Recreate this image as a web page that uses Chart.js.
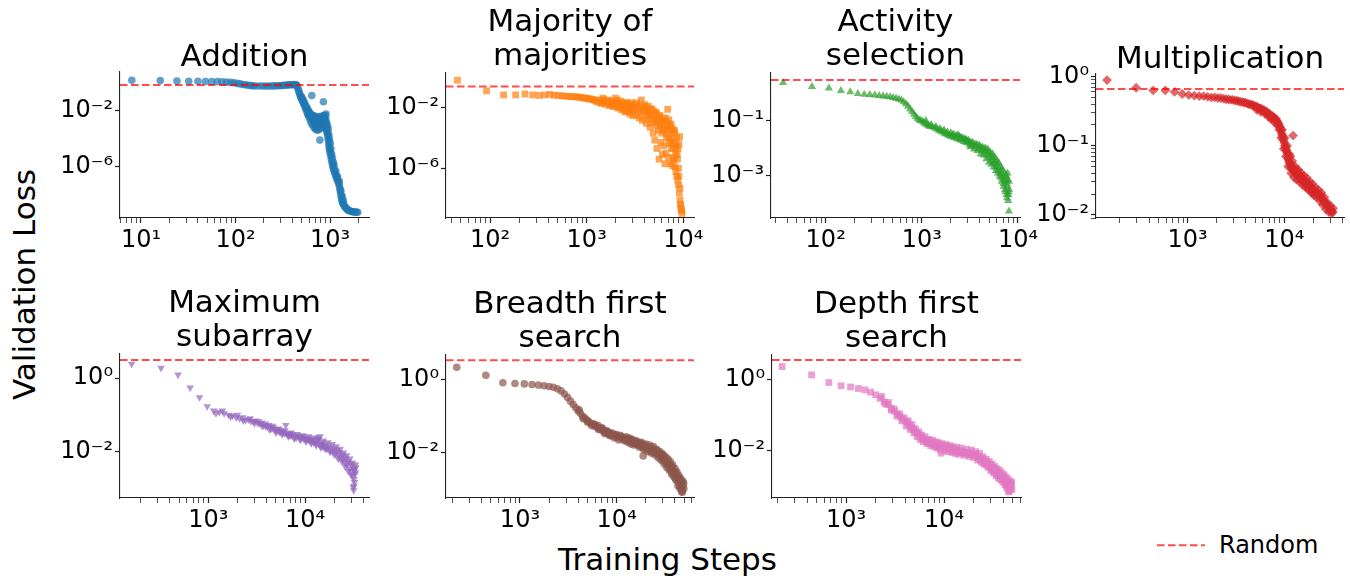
<!DOCTYPE html>
<html>
<head>
<meta charset="utf-8">
<script src="https://cdn.jsdelivr.net/npm/chart.js@4.4.1/dist/chart.umd.min.js"></script>
<style>
  html, body { margin: 0; padding: 0; background: #fff; }
  body { width: 1350px; height: 581px; position: relative; overflow: hidden; font-family: 'DejaVu Sans', sans-serif; }
  canvas { position: absolute; }
  .axis-label { position: absolute; font-size: 31px; line-height: 31px; color: #000; white-space: nowrap; text-align: center; }
  #ylabel { left: -125.7px; top: 268.5px; width: 300px; transform: rotate(-90deg); }
  #xlabel { left: 467.5px; top: 543.8px; width: 400px; }
  #legend { position: absolute; left: 1155px; top: 532.7px; height: 24px; font-size: 24px; line-height: 24px; white-space: nowrap; }
  #legend svg { position: absolute; left: 0; top: 0; }
  #legend span { position: absolute; left: 64px; top: 0; }
</style>
</head>
<body>
<div class="axis-label" id="ylabel">Validation Loss</div>
<div class="axis-label" id="xlabel">Training Steps</div>
<div id="legend">
  <svg width="56" height="24"><line x1="2" y1="12.3" x2="50" y2="12.3" stroke="rgba(255,0,0,0.7)" stroke-width="2" stroke-dasharray="7.5 3.5"/></svg>
  <span>Random</span>
</div>
<script>
// training step / validation loss pairs
const additionPoints = [
  [8,1.5],[16,1.45],[24,1.3],[32,1.25],[40,1.25],[48,1.2],[56,1.2],[64,1.2],[72,1.15],[80,1.1],[88,1.05],[96,1.0],
  [104,0.9],[112,0.82],[120,0.75],[128,0.7],[136,0.66],[144,0.62],[152,0.6],[160,0.58],[176,0.58],[192,0.57],
  [208,0.57],[224,0.58],[240,0.58],[256,0.59],[272,0.6],[288,0.61],[304,0.62],[320,0.64],[336,0.66],[352,0.68],
  [368,0.7],[384,0.71],[400,0.72],[416,0.73],[432,0.72],[440,0.68],[448,0.6],[456,0.42],[464,0.28],[472,0.2],
  [480,0.14],[488,0.1],[496,0.08],[504,0.065],[512,0.05],[520,0.04],[528,0.032],[536,0.026],[544,0.02],[552,0.015],
  [560,0.011],[568,0.014],[576,0.007],[584,0.005],[592,0.009],[600,0.0035],[608,0.006],[616,0.0022],[624,0.004],
  [632,0.0013],[641,0.12],[648,0.0028],[656,0.0009],[664,0.0045],[672,0.0016],[680,0.0006],[688,0.0032],[696,0.0011],
  [704,0.0005],[712,0.0024],[720,0.0009],[728,0.0004],[736,0.0017],[744,0.003],[752,0.0007],[760,0.0013],[768,0.00045],
  [780,0.00008],[788,0.0021],[796,0.0009],[804,0.0016],[812,0.0006],[820,0.0034],[828,0.0012],[836,0.0019],[850,0.044],
  [858,0.0008],[866,0.0026],[874,0.0013],[882,0.0048],[890,0.0006],[898,0.0016],[906,0.0058],[914,0.0009],[922,0.0004],
  [930,0.0003],[938,0.00025],[944,2e-4],[952,1.2e-4],[960,8e-5],[968,5e-5],[976,3e-5],[984,2e-5],[992,1.5e-5],[1000,1e-5],
  [1016,6e-6],[1032,3.5e-6],[1048,2e-6],[1064,1.2e-6],[1080,8e-7],[1096,6e-7],[1112,4.5e-7],[1128,3.5e-7],[1144,2.6e-7],
  [1160,2e-7],[1176,1.6e-7],[1192,1.3e-7],[1208,1e-7],[1224,8e-8],[1240,6e-8],[1256,4e-8],[1272,2.5e-8],[1288,1.5e-8],
  [1304,9e-9],[1320,6e-9],[1336,4e-9],[1352,3e-9],[1368,2.4e-9],[1392,2e-9],[1416,1.6e-9],[1448,1.3e-9],[1480,1.1e-9],
  [1520,9e-10],[1560,8e-10],[1600,7.2e-10],[1660,6.6e-10],[1720,6.2e-10],[1780,6e-10],[1840,5.8e-10],[1900,5.7e-10],[1960,5.6e-10],
  [500,0.1],[520,0.06],[540,0.035],[560,0.02],[580,0.013],[600,0.008],[620,0.006],[640,0.005],[660,0.0035],[680,0.0025],
  [700,0.004],[720,0.0028],[740,0.002],[760,0.0035],[780,0.0025],[800,0.004],[820,0.0018],[840,0.0028],[860,0.0045],
  [880,0.0022],[900,0.003],[920,0.0015],[940,0.0008],[955,0.0005],[970,0.0002],[985,0.0001],[1005,5e-5],[1020,2e-5],
  [1040,8e-6],[1060,4e-6],[1085,2e-6],[1105,1.2e-6],[1150,5e-7],[1200,2e-7],[1250,9e-8],[1300,2e-8],[1340,8e-9],[1380,4e-9]
];

const majorityPoints = [
  [46,0.6],[92,0.12],[138,0.065],[184,0.065],[230,0.075],[276,0.065],[322,0.06],[368,0.065],[414,0.07],[460,0.062],
  [506,0.06],[552,0.056],[598,0.055],[644,0.052],[690,0.05],[736,0.05],[782,0.048],[828,0.046],[874,0.045],[920,0.042],
  [966,0.04],[1012,0.038],[1058,0.036],[1104,0.035],[1150,0.032],[1196,0.03],[1242,0.026],[1288,0.023],[1334,0.03],
  [1380,0.02],[1426,0.018],[1472,0.04],[1518,0.025],[1564,0.016],[1610,0.021],[1656,0.03],[1702,0.013],[1748,0.02],
  [1794,0.015],[1840,0.026],[1886,0.011],[1932,0.018],[1978,0.04],[2024,0.012],[2070,0.02],[2116,0.009],[2162,0.015],
  [2208,0.011],[2254,0.025],[2300,0.007],[2346,0.012],[2392,0.018],[2438,0.008],[2484,0.005],[2530,0.012],[2576,0.006],
  [2622,0.02],[2668,0.009],[2714,0.005],[2760,0.014],[2806,0.0035],[2852,0.008],[2898,0.02],[2944,0.005],[2990,0.011],
  [3036,0.0028],[3128,0.007],[3220,0.015],[3312,0.0032],[3404,0.009],[3496,0.002],[3588,0.005],[3680,0.03],[3772,0.0014],
  [3864,0.006],[3956,0.015],[4048,0.0025],[4140,0.0009],[4232,0.005],[4324,0.012],[4416,0.0016],[4508,0.0005],[4600,0.003],
  [4692,0.008],[4784,0.001],[4876,0.0002],[4968,0.002],[5060,7e-5],[5152,0.005],[5244,0.0006],[5336,2e-5],[5428,0.0015],
  [5520,0.0003],[5612,4e-6],[5704,0.003],[5796,0.0008],[5888,5e-5],[5980,0.0002],[6072,8e-6],[6164,0.0012],[6256,3e-5],
  [6348,0.0004],[6440,2e-6],[6532,0.002],[6624,1e-5],[6716,0.0001],[6808,0.0006],[6900,0.0074],[6992,5e-6],[7084,0.0015],
  [7176,4e-5],[7268,0.0003],[7360,2e-6],[7452,0.0008],[7544,2e-5],[7636,0.0001],[7728,1.5e-6],[7820,0.0003],[7912,5e-6],
  [8004,5e-5],[8050,3.5e-6],[8096,0.0002],[8188,1.2e-6],[8280,3e-5],[8372,6e-7],[8464,0.0001],[8556,3e-7],[8648,8e-6],
  [8740,1.7e-7],[8832,2e-5],[8924,8e-8],[9016,4e-5],[9100,2.3e-8],[9160,1.2e-4],[9250,8e-9],[9350,4.5e-9],[9440,3e-9],
  [9520,2e-9],[9600,1.6e-9],[9700,1.1e-9],
  [1500,0.03],[1700,0.025],[1900,0.02],[2100,0.03],[2300,0.018],[2500,0.02],[2700,0.012],[2900,0.015],[3100,0.01],
  [3300,0.02],[3500,0.008],[3700,0.012],[3900,0.006],[4100,0.01],[4300,0.004],[4500,0.008],[4700,0.003],[4900,0.006],
  [5100,0.0015],[5300,0.004],[5500,0.001],[5700,0.0025],[5900,0.0006],[6100,0.0018],[6300,0.0003],[6500,0.0012],
  [6700,0.0002],[6900,0.0009],[7100,0.0001],[7300,0.0006],[7500,5e-5],[7700,0.0004],[7900,2e-5],[8100,0.0003],
  [8300,1e-5],[8500,3e-5],[8700,4e-6],[8900,1e-6],[9000,3e-7],[9200,5e-8]
];

const activityPoints = [
  [36,2.4],[72,1.7],[108,1.5],[144,1.23],[180,1.1],[216,0.95],[252,0.9],[288,0.87],[324,0.84],[360,0.8],[396,0.78],
  [432,0.75],[468,0.72],[504,0.68],[540,0.64],[576,0.6],[612,0.55],[648,0.48],[684,0.4],[720,0.33],[756,0.26],[792,0.21],
  [828,0.17],[864,0.14],[900,0.12],[936,0.105],[972,0.1],[1008,0.095],[1044,0.085],[1080,0.078],[1116,0.072],[1152,0.068],
  [1188,0.064],[1224,0.06],[1296,0.058],[1368,0.053],[1440,0.048],[1512,0.044],[1584,0.04],[1656,0.038],[1728,0.034],
  [1800,0.032],[1872,0.03],[1944,0.028],[2016,0.026],[2088,0.03],[2160,0.024],[2232,0.026],[2304,0.022],[2376,0.03],
  [2448,0.02],[2520,0.023],[2592,0.019],[2664,0.021],[2736,0.017],[2808,0.02],[2880,0.016],[2952,0.018],[3024,0.015],
  [3096,0.017],[3168,0.013],[3240,0.016],[3312,0.012],[3456,0.014],[3600,0.011],[3744,0.013],[3888,0.0095],[4032,0.011],
  [4176,0.008],[4320,0.0095],[4464,0.007],[4608,0.0085],[4752,0.0055],[4896,0.007],[5040,0.0045],[5184,0.0055],
  [5328,0.0035],[5472,0.0045],[5616,0.0028],[5760,0.0032],[5904,0.002],[6048,0.0026],[6192,0.0015],[6336,0.002],
  [6480,0.0011],[6624,0.0014],[6768,0.0008],[6912,0.001],[7056,0.0005],[7200,0.0007],[7344,0.0003],[7488,0.0006],
  [7632,0.0002],[7776,0.0004],[7920,0.00012],[8064,5e-5],[8000,0.00025],[7850,0.0007],[7500,0.0009],[7700,0.00015],[8100,0.0003],
  [1100,0.1],[1250,0.07],[1400,0.06],[1550,0.05],[1700,0.045],[1850,0.038],[2000,0.035],[2150,0.032],[2300,0.028],
  [2450,0.027],[2600,0.024],[2750,0.022],[2900,0.02],[3050,0.019],[3200,0.011],[3350,0.016],[3500,0.009],[3650,0.014],
  [3800,0.008],[3950,0.013],[4100,0.006],[4250,0.011],[4400,0.0055],[4550,0.01],[4700,0.004],[4850,0.009],[5000,0.003],
  [5150,0.007],[5300,0.0025],[5450,0.006],[5600,0.002],[5750,0.0045],[5900,0.0015],[6050,0.0035],[6200,0.0012],
  [6350,0.0028],[6500,0.0009],[6650,0.002],[6800,0.0006],[6950,0.0016],[7100,0.0004],[7250,0.0012],[7400,0.00025],
  [7550,0.001],[7650,0.0005],[7800,0.0012],[7950,0.0002],[8050,0.0006]
];

const multiplicationPoints = [
  [147,0.89],[294,0.69],[441,0.63],[588,0.63],[735,0.6],[882,0.56],[1029,0.54],[1176,0.53],[1323,0.52],[1470,0.52],
  [1617,0.51],[1764,0.5],[1911,0.5],[2058,0.49],[2205,0.49],[2352,0.48],[2499,0.47],[2646,0.47],[2793,0.46],[2940,0.46],
  [3087,0.45],[3234,0.45],[3381,0.44],[3528,0.43],[3675,0.43],[3822,0.42],[3969,0.42],[4116,0.41],[4263,0.4],[4410,0.4],
  [4557,0.39],[4704,0.39],[4851,0.38],[4998,0.37],[5145,0.37],[5292,0.36],[5439,0.35],[5586,0.34],[5733,0.35],[5880,0.33],
  [6027,0.32],[6174,0.33],[6321,0.31],[6468,0.3],[6615,0.31],[6762,0.29],[6909,0.28],[7056,0.29],[7203,0.27],[7350,0.26],
  [7497,0.27],[7644,0.25],[7791,0.26],[7938,0.25],[8085,0.24],[8232,0.245],[8379,0.23],[8526,0.22],[8673,0.21],[8820,0.2],
  [8967,0.19],[9114,0.18],[9261,0.165],[9408,0.15],[9555,0.14],[9702,0.13],[9849,0.12],[9996,0.11],[10143,0.1],
  [10290,0.095],[10437,0.09],[10584,0.085],[10731,0.078],[10878,0.07],[11025,0.065],[11172,0.06],[11319,0.057],
  [11466,0.054],[11613,0.07],[11760,0.05],[11907,0.048],[12054,0.046],[12201,0.05],[12348,0.14],[12495,0.044],[12642,0.042],
  [12936,0.04],[13230,0.045],[13524,0.038],[13818,0.036],[14112,0.04],[14406,0.035],[14700,0.033],[14994,0.036],
  [15288,0.032],[15582,0.03],[15876,0.033],[16170,0.029],[16464,0.031],[16758,0.028],[17052,0.03],[17346,0.027],
  [17640,0.025],[17934,0.028],[18228,0.024],[18522,0.026],[18816,0.023],[19110,0.025],[19404,0.022],[19698,0.024],
  [19992,0.021],[20580,0.022],[21168,0.02],[21756,0.021],[22344,0.019],[22932,0.02],[23520,0.018],[24108,0.019],
  [24696,0.017],[25284,0.016],[25872,0.016],[26460,0.015],[27048,0.014],[27636,0.014],[28224,0.013],[28812,0.013],
  [29400,0.012],[29988,0.012],[30576,0.0115],[31164,0.0115],[31752,0.011],
  [5200,0.33],[5700,0.31],[6300,0.29],[6900,0.26],[7400,0.24],[7900,0.22],[8400,0.2],[8900,0.17],[9300,0.13],
  [9500,0.17],[9900,0.09],[10100,0.13],[10400,0.07],[10700,0.1],[11000,0.05],[11300,0.075],[11800,0.04],[12100,0.06],
  [12600,0.035],[13000,0.05],[13500,0.032],[14000,0.045],[14500,0.03],[15000,0.04],[15500,0.027],[16000,0.037],
  [16600,0.025],[17200,0.034],[17800,0.023],[18400,0.03],[19000,0.021],[19600,0.028],[20300,0.019],[21000,0.025],
  [21700,0.018],[22500,0.023],[23300,0.016],[24100,0.021],[25000,0.014],[26000,0.018],[27000,0.012],[28000,0.015],
  [29000,0.011],[30000,0.0135],[31000,0.0105],[32000,0.0125]
];

const subarrayPoints = [
  [161,2.4],[324,1.87],[486,1.23],[648,0.55],[810,0.3],[972,0.17],[1134,0.13],[1296,0.12],[1458,0.11],[1620,0.1],
  [1782,0.095],[1944,0.085],[2106,0.08],[2268,0.085],[2430,0.072],[2592,0.075],[2754,0.068],[2916,0.066],[3078,0.07],
  [3240,0.06],[3402,0.058],[3564,0.062],[3726,0.052],[3888,0.05],[4050,0.048],[4212,0.053],[4374,0.045],[4536,0.042],
  [4698,0.046],[4860,0.04],[5022,0.038],[5184,0.042],[5346,0.036],[5508,0.034],[5670,0.037],[5832,0.033],[5994,0.035],
  [6156,0.031],[6318,0.053],[6480,0.032],[6642,0.03],[6804,0.028],[6966,0.031],[7128,0.027],[7452,0.029],[7776,0.026],
  [8100,0.024],[8424,0.027],[8748,0.025],[9072,0.023],[9396,0.026],[9720,0.022],[10044,0.024],[10368,0.021],[10692,0.023],
  [11016,0.02],[11340,0.022],[11664,0.019],[11988,0.021],[12312,0.018],[12636,0.02],[12960,0.017],[13284,0.019],
  [13608,0.024],[13932,0.016],[14256,0.026],[14580,0.015],[14904,0.018],[15228,0.014],[15552,0.016],[15876,0.013],
  [16200,0.015],[16848,0.012],[17496,0.014],[18144,0.011],[18792,0.013],[19440,0.01],[20088,0.012],[20736,0.009],
  [21384,0.011],[22032,0.008],[22680,0.01],[23328,0.007],[23976,0.0085],[24624,0.006],[25272,0.0075],[25920,0.005],
  [26568,0.0065],[27216,0.0045],[27864,0.0055],[28512,0.0035],[29160,0.005],[29808,0.003],[30456,0.0042],[31104,0.0022],
  [31752,0.0035],[32400,0.0015],[31500,0.0011],[32000,0.0018],[33000,0.0028],[33500,0.0038],[32800,0.0025],
  [1200,0.11],[1400,0.13],[1700,0.09],[2000,0.1],[2300,0.07],[2700,0.08],[3000,0.06],[3300,0.068],[3600,0.05],
  [3900,0.058],[4300,0.04],[4600,0.05],[5000,0.033],[5400,0.042],[5800,0.03],[6200,0.038],[6700,0.026],[7200,0.033],
  [7700,0.023],[8300,0.03],[8900,0.021],[9500,0.028],[10200,0.019],[10900,0.026],[11600,0.017],[12300,0.024],
  [13000,0.015],[13800,0.022],[14600,0.013],[15400,0.02],[16300,0.012],[17200,0.018],[18100,0.01],[19000,0.016],
  [20000,0.0085],[21000,0.014],[22000,0.0065],[23000,0.012],[24000,0.0055],[25000,0.0095],[26000,0.004],[27000,0.008],
  [28000,0.003],[29000,0.0065],[30000,0.0024],[31000,0.005],[32000,0.0012],[32500,0.0033],[33200,0.0045],[31800,0.0009]
];

const bfsPoints = [
  [222,2.24],[444,1.35],[666,0.84],[888,0.8],[1110,0.78],[1332,0.75],[1554,0.72],[1776,0.69],[1998,0.66],[2220,0.63],
  [2442,0.57],[2664,0.5],[2886,0.41],[3108,0.33],[3330,0.26],[3552,0.21],[3774,0.17],[3996,0.14],[4218,0.12],[4440,0.1],
  [4662,0.09],[4884,0.08],[5106,0.072],[5328,0.065],[5550,0.06],[5772,0.062],[5994,0.052],[6216,0.05],[6438,0.055],
  [6660,0.045],[6882,0.042],[7104,0.046],[7326,0.039],[7548,0.036],[7770,0.04],[7992,0.034],[8214,0.032],[8436,0.035],
  [8658,0.031],[8880,0.029],[9324,0.031],[9768,0.027],[10212,0.029],[10656,0.025],[11100,0.027],[11544,0.024],[11988,0.025],
  [12432,0.022],[12876,0.024],[13320,0.021],[13764,0.023],[14208,0.019],[14652,0.021],[15096,0.018],[15540,0.02],
  [15984,0.017],[16428,0.019],[16872,0.016],[17316,0.018],[17760,0.015],[18204,0.017],[18648,0.014],[18800,0.008],
  [19092,0.016],[19536,0.013],[19980,0.015],[20868,0.012],[21756,0.014],[22644,0.011],[23532,0.013],[24420,0.01],
  [25308,0.012],[26196,0.009],[27084,0.01],[27972,0.0075],[28860,0.009],[29748,0.0065],[30636,0.008],[31524,0.0055],
  [32412,0.0065],[33300,0.0045],[34188,0.0055],[35076,0.0038],[35964,0.0045],[36852,0.003],[37740,0.0038],[38628,0.0025],
  [39516,0.003],[40404,0.002],[41292,0.0026],[42180,0.0017],[43068,0.0021],[43956,0.0014],[44844,0.0018],[45732,0.0011],
  [46620,0.0015],[47508,0.00093],[48396,0.0012],[49284,0.0014],[48000,0.0008],
  [4100,0.15],[4500,0.085],[5000,0.068],[5500,0.055],[6000,0.058],[6500,0.043],[7000,0.048],[7500,0.033],[8000,0.038],
  [8500,0.029],[9000,0.034],[9500,0.025],[10000,0.031],[10500,0.022],[11000,0.029],[12000,0.021],[12500,0.027],
  [13000,0.019],[13500,0.025],[14000,0.017],[14500,0.023],[15000,0.016],[16000,0.021],[17000,0.014],[18000,0.019],
  [19000,0.012],[20000,0.017],[21000,0.0105],[22000,0.016],[23000,0.0095],[24000,0.0145],[25000,0.0085],[26000,0.012],
  [27000,0.007],[28000,0.0105],[29000,0.006],[30000,0.009],[31000,0.0048],[32000,0.0075],[33000,0.0038],[34000,0.0065],
  [35000,0.0032],[36000,0.0055],[37000,0.0025],[38000,0.0045],[39000,0.0021],[40000,0.0036],[41000,0.0017],[42000,0.0029],
  [43000,0.0012],[44000,0.0023],[45000,0.001],[46000,0.0019],[47000,0.0008],[48500,0.0016],[49500,0.001]
];

const dfsPoints = [
  [222,2.37],[444,1.38],[666,0.84],[888,0.68],[1110,0.63],[1332,0.57],[1554,0.52],[1776,0.45],[1998,0.38],[2220,0.3],
  [2442,0.24],[2664,0.2],[2886,0.16],[3108,0.13],[3330,0.11],[3552,0.093],[3774,0.08],[3996,0.07],[4218,0.062],[4440,0.055],
  [4662,0.045],[4884,0.04],[5106,0.034],[5328,0.031],[5550,0.028],[5772,0.025],[5994,0.023],[6216,0.021],[6438,0.02],
  [6660,0.019],[6882,0.018],[7104,0.017],[7326,0.016],[7548,0.017],[7770,0.015],[7992,0.016],[8214,0.014],[8436,0.015],
  [8658,0.013],[8880,0.014],[9324,0.0086],[9768,0.014],[10212,0.012],[10656,0.013],[11100,0.011],[11544,0.012],
  [11988,0.0105],[12432,0.011],[12876,0.01],[13320,0.0105],[13764,0.0096],[14208,0.01],[14652,0.009],[15096,0.0095],
  [15540,0.0088],[15984,0.0092],[16428,0.0085],[16872,0.009],[17316,0.0082],[17760,0.0088],[18204,0.008],[18648,0.0085],
  [19092,0.0078],[19536,0.008],[19980,0.0075],[20868,0.0078],[21756,0.0065],[22644,0.007],[23532,0.0055],[24420,0.006],
  [25308,0.0045],[26196,0.0052],[27084,0.004],[27972,0.0045],[28860,0.0035],[29748,0.004],[30636,0.003],[31524,0.0034],
  [32412,0.0026],[33300,0.003],[34188,0.0023],[35076,0.0026],[35964,0.002],[36852,0.0023],[37740,0.0018],[38628,0.002],
  [39516,0.0016],[40404,0.0018],[41292,0.0014],[42180,0.0016],[43068,0.0012],[43956,0.001],[44844,0.0013],[45732,0.00075],
  [46620,0.0011],[47508,0.0009],[48396,0.0012],[49284,0.0008],
  [2300,0.34],[2500,0.21],[2700,0.23],[2900,0.14],[3100,0.15],[3300,0.095],[3500,0.11],[3700,0.07],[3900,0.085],
  [4100,0.05],[4300,0.07],[4500,0.04],[4700,0.055],[4900,0.032],[5100,0.042],[5300,0.025],[5500,0.034],[5700,0.021],
  [5900,0.028],[6100,0.018],[6400,0.025],[6700,0.016],[7000,0.021],[7300,0.014],[7600,0.02],[7900,0.013],[8200,0.018],
  [8500,0.012],[8800,0.017],[9100,0.011],[9500,0.016],[10000,0.01],[10500,0.015],[11000,0.0095],[11500,0.014],
  [12000,0.009],[12500,0.013],[13000,0.0085],[13500,0.0125],[14000,0.008],[15000,0.012],[16000,0.0075],[17000,0.011],
  [18000,0.007],[19000,0.0105],[20000,0.0065],[21000,0.0095],[22000,0.0055],[23000,0.0085],[24000,0.0048],[25000,0.0068],
  [26000,0.0042],[27000,0.0058],[28000,0.0035],[29000,0.005],[30000,0.0028],[31000,0.0042],[32000,0.0024],[33000,0.0036],
  [34000,0.002],[35000,0.0031],[36000,0.0017],[37000,0.0028],[38000,0.0015],[39000,0.0024],[40000,0.0013],[41000,0.0021],
  [42000,0.0011],[43000,0.0018],[44000,0.0009],[45000,0.0016],[46000,0.0007],[47000,0.0014],[48000,0.001],[49000,0.0013]
];

const panelTitles = [
  ['Addition'], ['Majority of', 'majorities'], ['Activity', 'selection'], ['Multiplication'],
  ['Maximum', 'subarray'], ['Breadth first', 'search'], ['Depth first', 'search']
];
const randomLoss = [0.69, 0.23, 3.0, 0.66, 3.1, 3.5, 3.6];
const xLimits = [[6.0, 2580], [35, 12900], [27, 10500], [113, 41500], [122, 45800], [172, 63000], [175, 61000]];
const yLimits = [[2.2e-10, 5.8], [5.5e-10, 1.78], [2.8e-5, 5.4], [0.009, 1.09], [5.6e-4, 4.5], [5.5e-4, 4.9], [4.7e-4, 5.0]];
const xMajorTicks = [[10, 100, 1000], [100, 1000, 10000], [100, 1000, 10000], [1000, 10000], [1000, 10000], [1000, 10000], [1000, 10000]];
const yMajorTicks = [[1e-2, 1e-6], [1e-2, 1e-6], [1e-1, 1e-3], [1, 1e-1, 1e-2], [1, 1e-2], [1, 1e-2], [1, 1e-2]];
const yMinorTicks = [false, false, false, true, false, false, false];

const allPoints = [additionPoints, majorityPoints, activityPoints, multiplicationPoints, subarrayPoints, bfsPoints, dfsPoints];
const colors = ['31,119,180', '255,127,14', '44,160,44', '214,39,40', '148,103,189', '140,86,75', '227,119,194'];
const markers = [
  { style: 'circle', radius: 3.8, rotation: 0 },
  { style: 'rect', radius: 4.8, rotation: 0 },
  { style: 'triangle', radius: 4.7, rotation: 0 },
  { style: 'rectRot', radius: 4.9, rotation: 0 },
  { style: 'triangle', radius: 4.4, rotation: 180 },
  { style: 'circle', radius: 3.8, rotation: 0 },
  { style: 'rect', radius: 4.8, rotation: 0 }
];

// plot-area boxes in page pixels
const areas = [
  { l: 120, t: 72, r: 369, b: 218 },
  { l: 446, t: 73, r: 694, b: 218 },
  { l: 771, t: 73, r: 1020, b: 218 },
  { l: 1096, t: 74, r: 1344, b: 218 },
  { l: 120, t: 354, r: 369, b: 498 },
  { l: 446, t: 355, r: 694, b: 498 },
  { l: 772, t: 355, r: 1021, b: 498 }
];

const FONT = "'DejaVu Sans', sans-serif";
const Y_AXIS_W = 90;
const X_AXIS_H = 50;
const RIGHT_PAD = 30;
const TITLE_LINE = 34;
const TITLE_TOP = 4;

Chart.defaults.font.family = FONT;
Chart.defaults.color = '#000';

const SUP = { '-': '\u207B', '0': '\u2070', '1': '\u00B9', '2': '\u00B2', '3': '\u00B3', '4': '\u2074', '5': '\u2075', '6': '\u2076', '7': '\u2077', '8': '\u2078', '9': '\u2079' };

function powerLabel(v) {
  const e = String(Math.round(Math.log10(v)));
  return '10' + e.split('').map((c) => SUP[c]).join('');
}

function minorTicks(min, max) {
  const out = [];
  for (let e = Math.floor(Math.log10(min)); e <= Math.ceil(Math.log10(max)); e++) {
    for (let k = 2; k <= 9; k++) {
      const v = k * Math.pow(10, e);
      if (v >= min && v <= max) out.push(v);
    }
  }
  return out;
}

function tickList(majors, min, max, withMinor) {
  const ticks = majors.map((v) => ({ value: v, major: true }));
  if (withMinor) {
    minorTicks(min, max).forEach((v) => ticks.push({ value: v, major: false }));
  }
  return ticks.sort((a, b) => a.value - b.value);
}

function axisOptions(limits, majors, withMinor, horizontal) {
  return {
    type: 'logarithmic',
    position: horizontal ? 'bottom' : 'left',
    min: limits[0],
    max: limits[1],
    bounds: 'data',
    afterBuildTicks: (scale) => {
      scale.ticks = tickList(majors, limits[0], limits[1], withMinor);
    },
    afterFit: (scale) => {
      if (horizontal) {
        scale.height = X_AXIS_H;
        scale.paddingLeft = 0;
        scale.paddingRight = 0;
      } else {
        scale.width = Y_AXIS_W;
        scale.paddingTop = 0;
        scale.paddingBottom = 0;
      }
    },
    ticks: {
      autoSkip: false,
      maxRotation: 0,
      minRotation: 0,
      padding: horizontal ? 3 : 2,
      font: { size: 24, family: FONT },
      color: '#000',
      callback: (value, index, ticks) => (ticks[index].major ? powerLabel(value) : '')
    },
    grid: {
      display: true,
      drawOnChartArea: false,
      drawTicks: true,
      tickLength: 5,
      tickColor: '#222',
      tickWidth: (ctx) => (ctx.tick && ctx.tick.major ? 1.2 : 0.8)
    },
    border: { display: true, color: '#222', width: 1.1 }
  };
}

function renderPanel(i) {
  const area = areas[i];
  const title = panelTitles[i];
  // negative bottom padding lowers the title text onto the plot, as in the figure
  const titleBottom = title.length > 1 ? -1 : -3;
  const titleH = TITLE_TOP + title.length * TITLE_LINE + titleBottom;
  const w = Y_AXIS_W + (area.r - area.l) + RIGHT_PAD;
  const h = titleH + (area.b - area.t) + X_AXIS_H;

  const canvas = document.createElement('canvas');
  canvas.width = w;
  canvas.height = h;
  canvas.style.width = w + 'px';
  canvas.style.height = h + 'px';
  canvas.style.left = (area.l - Y_AXIS_W) + 'px';
  canvas.style.top = (area.t - titleH) + 'px';
  document.body.appendChild(canvas);

  const rgb = colors[i];
  const marker = markers[i];
  const xl = xLimits[i];

  return new Chart(canvas, {
    type: 'scatter',
    data: {
      datasets: [
        {
          label: 'Random',
          data: [{ x: xl[0], y: randomLoss[i] }, { x: xl[1], y: randomLoss[i] }],
          showLine: true,
          borderColor: 'rgba(255,0,0,0.7)',
          borderWidth: 2,
          borderDash: [7.5, 3.5],
          pointRadius: 0,
          order: 0
        },
        {
          label: title.join(' '),
          data: allPoints[i].map((p) => ({ x: p[0], y: p[1] })),
          pointStyle: marker.style,
          pointRadius: marker.radius,
          rotation: marker.rotation,
          backgroundColor: 'rgba(' + rgb + ',0.7)',
          borderColor: 'rgba(' + rgb + ',0.7)',
          borderWidth: 0,
          order: 1
        }
      ]
    },
    options: {
      responsive: false,
      maintainAspectRatio: false,
      animation: false,
      devicePixelRatio: 1,
      events: [],
      layout: { padding: { left: 0, right: RIGHT_PAD, top: 0, bottom: 0 } },
      plugins: {
        legend: { display: false },
        tooltip: { enabled: false },
        title: {
          display: true,
          text: title,
          fullSize: false,
          color: '#000',
          font: { size: 31, family: FONT, weight: 'normal', lineHeight: TITLE_LINE / 31 },
          padding: { top: TITLE_TOP, bottom: titleBottom }
        }
      },
      scales: {
        x: axisOptions(xl, xMajorTicks[i], true, true),
        y: axisOptions(yLimits[i], yMajorTicks[i], yMinorTicks[i], false)
      }
    }
  });
}

panelTitles.forEach((_, i) => renderPanel(i));
</script>
</body>
</html>
